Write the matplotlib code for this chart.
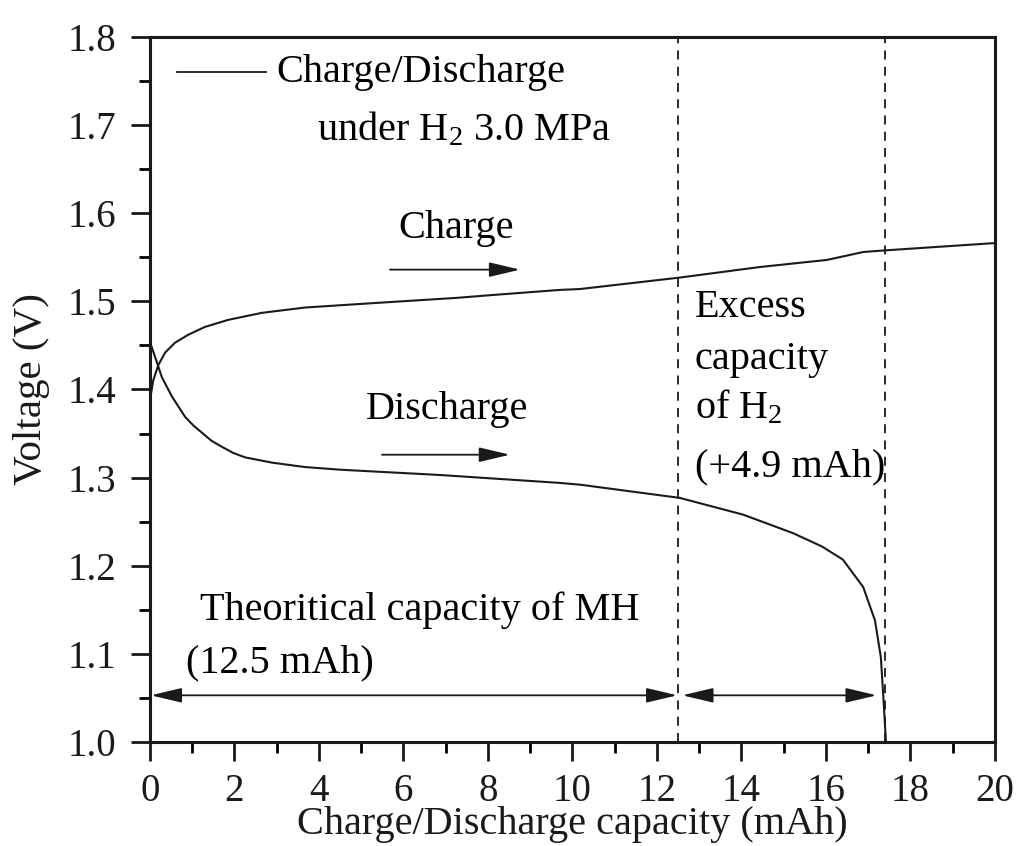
import matplotlib
matplotlib.use('Agg')
import matplotlib.pyplot as plt
from matplotlib.ticker import MultipleLocator

plt.rcParams['font.family'] = ['Liberation Serif', 'DejaVu Serif']
plt.rcParams['mathtext.fontset'] = 'custom'
plt.rcParams['mathtext.rm'] = 'Liberation Serif'
plt.rcParams['mathtext.it'] = 'Liberation Serif:italic'

# Courbe de charge (capacité en mAh, tension en V)
charge_x = [0.0, 0.02, 0.08, 0.2, 0.36, 0.59, 0.9, 1.3, 1.85, 2.65, 3.67, 5.28, 7.27,
            8.05, 9.70, 10.18, 12.54, 14.44, 16.02, 16.5, 16.88, 17.44, 19.95, 20.0]
charge_v = [1.390, 1.394, 1.411, 1.428, 1.442, 1.453, 1.462, 1.471, 1.479, 1.487, 1.493,
            1.498, 1.504, 1.507, 1.513, 1.514, 1.527, 1.539, 1.547, 1.552, 1.556, 1.558,
            1.566, 1.566]

# Courbe de décharge
discharge_x = [0.0, 0.12, 0.28, 0.52, 0.83, 1.03, 1.23, 1.45, 1.70, 1.97, 2.25, 2.89,
               3.67, 4.5, 6.86, 9.70, 10.18, 12.54, 14.04, 15.22, 15.9, 16.40, 16.88,
               17.16, 17.30, 17.36, 17.42]
discharge_v = [1.454, 1.437, 1.414, 1.392, 1.369, 1.359, 1.351, 1.342, 1.335, 1.328,
               1.323, 1.317, 1.312, 1.309, 1.303, 1.294, 1.292, 1.277, 1.258, 1.237,
               1.222, 1.207, 1.176, 1.138, 1.096, 1.05, 1.0]

# Limites de capacité (MH théorique, total avec H2)
cap_mh = 12.5
cap_total = 17.4

ink = '#1a1a1a'
fs = 29

fig = plt.figure(figsize=(10.19, 8.46), dpi=100)
ax = fig.add_axes([0.1472, 0.1229, 0.8292, 0.8334])

ax.plot(charge_x, charge_v, color=ink, lw=1.5)
ax.plot(discharge_x, discharge_v, color=ink, lw=1.5)

for xv in (cap_mh, cap_total):
    ax.axvline(xv, color=ink, lw=1.3, ls=(0, (5, 4)))

ax.set_xlim(0, 20)
ax.set_ylim(1.0, 1.8)
ax.xaxis.set_major_locator(MultipleLocator(2))
ax.xaxis.set_minor_locator(MultipleLocator(1))
ax.yaxis.set_major_locator(MultipleLocator(0.1))
ax.yaxis.set_minor_locator(MultipleLocator(0.05))
ax.yaxis.set_major_formatter(plt.FormatStrFormatter('%.1f'))
ax.tick_params(which='major', direction='out', length=14, width=2, labelsize=28,
               colors=ink, top=False, right=False)
ax.tick_params(axis='x', which='major', pad=8)
ax.tick_params(axis='y', which='major', pad=10)
ax.tick_params(which='minor', direction='out', length=8, width=2, top=False, right=False)
for s in ax.spines.values():
    s.set_linewidth(2.2)
    s.set_color(ink)

ax.set_xlabel('Charge/Discharge capacity (mAh)', fontsize=29, color=ink)
ax.set_ylabel('Voltage (V)', fontsize=29.5, color=ink)
ax.xaxis.set_label_coords(0.5, -0.091)
ax.yaxis.set_label_coords(-0.118, 0.5)

# Légende manuelle
ax.plot([0.65, 2.75], [1.760, 1.760], color=ink, lw=1.3)
ax.text(3.0, 1.760, 'Charge/Discharge', fontsize=fs, va='center', ha='left')
ax.text(3.95, 1.695, r'under H$_\mathregular{2}$ 3.0 MPa', fontsize=fs, va='center', ha='left')

arrow_kw = dict(arrowstyle='-|>,head_length=1.9,head_width=0.45', color=ink, lw=1.3,
                shrinkA=0, shrinkB=0)
arrow2_kw = dict(arrowstyle='<|-|>,head_length=1.9,head_width=0.45', color=ink, lw=1.3,
                 shrinkA=0, shrinkB=0)

ax.text(7.24, 1.583, 'Charge', fontsize=fs, ha='center', va='center')
ax.annotate('', xy=(8.76, 1.536), xytext=(5.68, 1.536), arrowprops=arrow_kw)

ax.text(7.03, 1.377, 'Discharge', fontsize=fs, ha='center', va='center')
ax.annotate('', xy=(8.52, 1.326), xytext=(5.49, 1.326), arrowprops=arrow_kw)

ax.text(12.9, 1.493, 'Excess', fontsize=fs, ha='left', va='center')
ax.text(12.9, 1.434, 'capacity', fontsize=fs, ha='left', va='center')
ax.text(12.9, 1.379, r'of H$_\mathregular{2}$', fontsize=fs, ha='left', va='center')
ax.text(12.9, 1.312, '(+4.9 mAh)', fontsize=fs, ha='left', va='center')

ax.text(1.18, 1.150, 'Theoritical capacity of MH', fontsize=fs, ha='left', va='center')
ax.text(0.85, 1.090, '(12.5 mAh)', fontsize=fs, ha='left', va='center')

ax.annotate('', xy=(0.02, 1.053), xytext=(cap_mh - 0.02, 1.053), arrowprops=arrow2_kw)
ax.annotate('', xy=(cap_mh + 0.1, 1.053), xytext=(cap_total - 0.2, 1.053), arrowprops=arrow2_kw)

fig.savefig('out.png', dpi=100)
